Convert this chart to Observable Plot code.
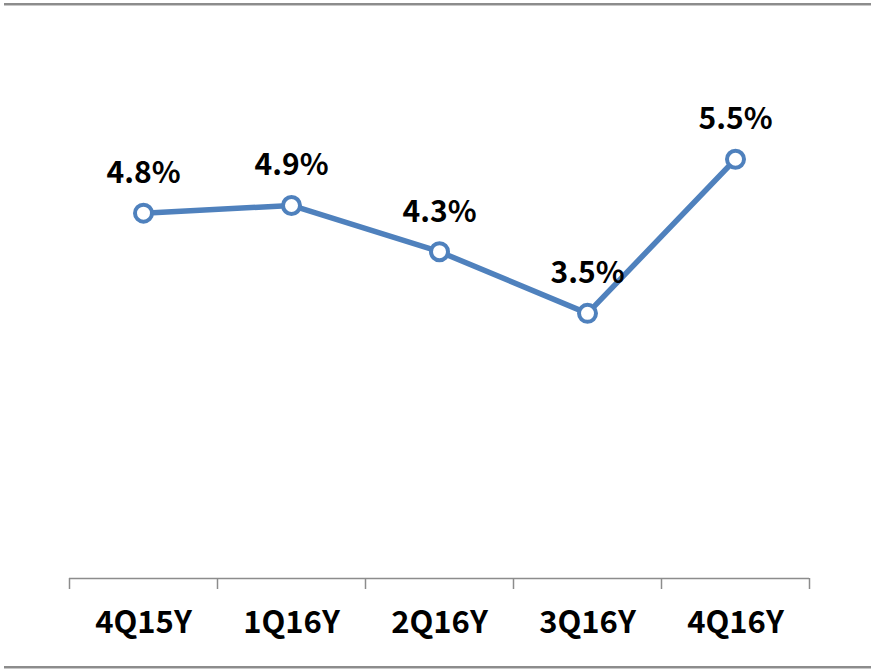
<!DOCTYPE html>
<html>
<head>
<meta charset="utf-8">
<script src="https://cdn.jsdelivr.net/npm/d3@7"></script>
<script src="https://cdn.jsdelivr.net/npm/@observablehq/plot@0.6"></script>
<style>
  html, body { margin: 0; padding: 0; background: #fff; }
  #wrap { position: relative; width: 875px; height: 671px; overflow: hidden; }
  .hline { position: absolute; left: 4px; width: 867px; height: 2px; background: #8c8c8c; border-bottom: 1px solid #c8c8c8; }
</style>
</head>
<body>
<div id="wrap">
  <div class="hline" style="top:3px"></div>
  <div class="hline" style="top:666px"></div>
  <div id="chart"></div>
</div>
<script>
const categories = ["4Q15Y", "1Q16Y", "2Q16Y", "3Q16Y", "4Q16Y"];
const values = [4.8, 4.9, 4.3, 3.5, 5.5];
const valueLabels = ["4.8%", "4.9%", "4.3%", "3.5%", "5.5%"];

const data = categories.map((c, i) => ({i, c, v: values[i], label: valueLabels[i]}));
const boundaries = d3.range(-0.5, categories.length, 1);
const font = "'Noto Sans CJK KR', 'Noto Sans', sans-serif";
const blue = "#4f81bd";

const chart = Plot.plot({
  width: 875,
  height: 671,
  marginLeft: 69,
  marginRight: 66,
  marginTop: 20,
  marginBottom: 93,
  style: {fontFamily: font, background: "transparent", overflow: "visible"},
  x: {type: "linear", domain: [-0.5, categories.length - 0.5], label: null},
  y: {domain: [0.06, 7.3], axis: null},
  marks: [
    Plot.ruleY([0.06], {stroke: "#8c8c8c", strokeWidth: 1.5}),
    Plot.axisX({ticks: boundaries, tickSize: 11, tickFormat: () => "", label: null, stroke: "#8c8c8c", strokeWidth: 1.5, strokeOpacity: 1}),
    Plot.axisX({ticks: d3.range(categories.length), tickSize: 0, tickPadding: 32, label: null,
      tickFormat: (d) => categories[d], fontSize: 31, fontWeight: "bold", fill: "#000"}),
    Plot.line(data, {x: "i", y: "v", stroke: blue, strokeWidth: 5.5}),
    Plot.dot(data, {x: "i", y: "v", r: 8.5, fill: "#fff", stroke: blue, strokeWidth: 4}),
    Plot.text(data, {x: "i", y: "v", text: "label", lineAnchor: "bottom", dy: -30,
      fontSize: 30, fontWeight: "bold", fill: "#000"})
  ]
});
document.getElementById("chart").appendChild(chart);
</script>
</body>
</html>
